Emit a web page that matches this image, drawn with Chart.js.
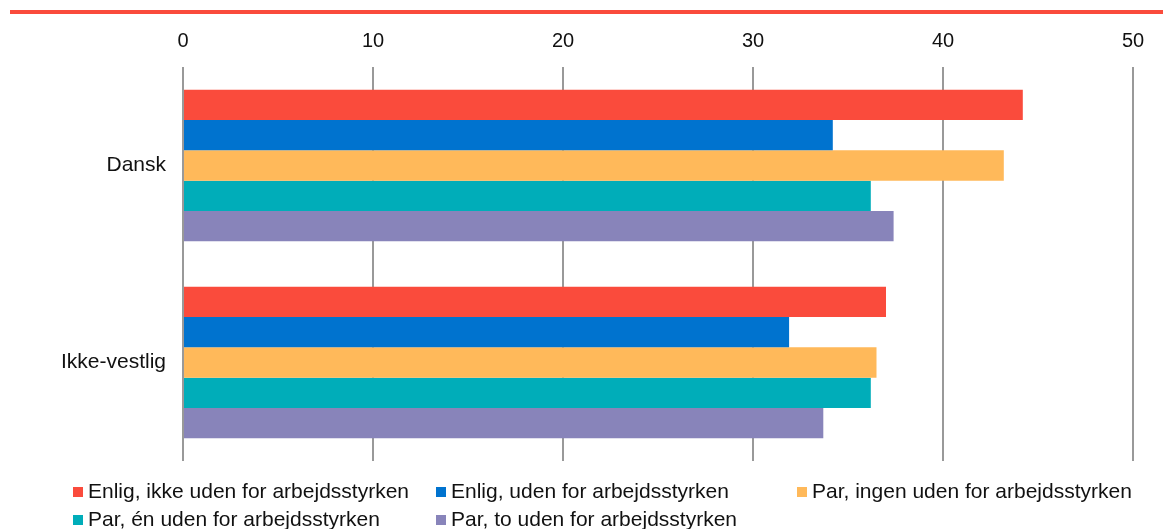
<!DOCTYPE html>
<html>
<head>
<meta charset="utf-8">
<script src="https://cdn.jsdelivr.net/npm/chart.js@4/dist/chart.umd.min.js"></script>
<style>
  body { margin: 0; background: #fff; }
  #wrap { position: relative; width: 1163px; height: 529px; }
  .chart-legend-item { position: absolute; font: 21px "Liberation Sans", Arial, sans-serif; color: #111; line-height: 21px; white-space: nowrap; }
  .chart-legend-box { position: absolute; width: 10px; height: 10px; }
</style>
</head>
<body>
<div id="wrap">
  <canvas id="myChart" width="1163" height="529"></canvas>
  <div id="custom-legend"></div>
</div>
<script>
const categories = ['Dansk', 'Ikke-vestlig'];
const seriesLabels = [
    'Enlig, ikke uden for arbejdsstyrken',
    'Enlig, uden for arbejdsstyrken',
    'Par, ingen uden for arbejdsstyrken',
    'Par, én uden for arbejdsstyrken',
    'Par, to uden for arbejdsstyrken'
];
const enligIkke = [44.2, 37.0];
const enligUden = [34.2, 31.9];
const parIngen = [43.2, 36.5];
const parEn = [36.2, 36.2];
const parTo = [37.4, 33.7];
const colors = ['#FA4B3C', '#0073CF', '#FFB95A', '#00ADB9', '#8884BA'];

const ctx = document.getElementById('myChart').getContext('2d');
const font = '"Liberation Sans", Arial, sans-serif';

// rød streg i toppen
const topLine = {
    id: 'topLine',
    beforeDraw(chart) {
        const c = chart.ctx;
        c.save();
        c.strokeStyle = '#FA4B3C';
        c.lineWidth = 4;
        c.beginPath();
        c.moveTo(10, 12);
        c.lineTo(chart.width, 12);
        c.stroke();
        c.restore();
    }
};

const values = [enligIkke, enligUden, parIngen, parEn, parTo];

const chart = new Chart(ctx, {
    type: 'bar',
    data: {
        labels: categories,
        datasets: values.map((v, i) => ({
            label: seriesLabels[i],
            data: v,
            backgroundColor: colors[i],
            borderWidth: 0,
            categoryPercentage: 0.769,
            barPercentage: 1
        }))
    },
    options: {
        indexAxis: 'y',
        responsive: false,
        animation: false,
        layout: { padding: { left: 0, right: 30, top: 0, bottom: 68 } },
        plugins: {
            legend: { display: false },
            tooltip: { enabled: false }
        },
        scales: {
            x: {
                position: 'top',
                min: 0,
                max: 50,
                ticks: {
                    stepSize: 10,
                    color: '#111',
                    padding: 14,
                    font: { family: font, size: 20 }
                },
                grid: {
                    color: '#999',
                    lineWidth: 2,
                    drawTicks: false
                },
                border: { display: false },
                afterFit(scale) { scale.height = 67; }
            },
            y: {
                ticks: {
                    color: '#111',
                    padding: 17,
                    font: { family: font, size: 21 }
                },
                grid: { display: false, drawTicks: false },
                border: { display: false },
                afterFit(scale) { scale.width = 183; }
            }
        }
    },
    plugins: [topLine]
});

// legende som i originalen
function createCustomLegend() {
    const legend = document.getElementById('custom-legend');
    const cols = [73, 436, 797];
    const rows = [479.5, 507.5];
    seriesLabels.forEach((label, i) => {
        const x = cols[i % 3];
        const y = rows[Math.floor(i / 3)];
        const box = document.createElement('div');
        box.className = 'chart-legend-box';
        box.style.left = x + 'px';
        box.style.top = (y + 7.5) + 'px';
        box.style.backgroundColor = colors[i];
        const text = document.createElement('div');
        text.className = 'chart-legend-item';
        text.style.left = (x + 15) + 'px';
        text.style.top = y + 'px';
        text.textContent = label;
        legend.appendChild(box);
        legend.appendChild(text);
    });
}

createCustomLegend();
</script>
</body>
</html>
